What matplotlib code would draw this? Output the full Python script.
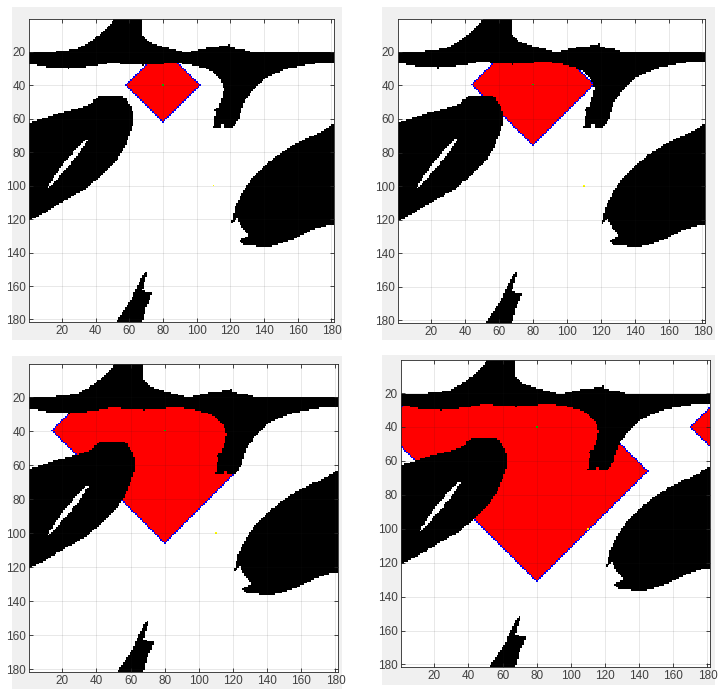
import numpy as np
import matplotlib
matplotlib.use('Agg')
import matplotlib.pyplot as plt
from matplotlib.path import Path
from matplotlib.colors import ListedColormap
from matplotlib.patches import Rectangle
from collections import deque

plt.rcParams['font.family'] = ['Liberation Sans', 'DejaVu Sans']

# map size, start / goal cells and the wavefront radius of each snapshot
N = 181
start = (80, 40)
goal = (110, 100)
radii = [22, 36, 66, 91]

# obstacle outlines (x = column, y = row)
top_band = [(-1, 20.3), (13, 20.3), (22, 19.5), (30, 17.8), (37, 14), (43, 9.5), (47, 5.5), (52.4, -1),
            (67, -1), (67, 9), (70, 13), (75, 15.6), (85, 18.5), (92, 20.2), (97, 20), (102, 18.5),
            (110, 17.3), (118, 16.5), (119.5, 15.5), (120, 17.5), (130, 19.3), (132, 20.3), (183, 20.3),
            (183, 26.3), (175.5, 26.3), (166, 27.7), (154, 30), (142, 35), (134, 42), (128, 50),
            (125, 60), (123, 63), (121.5, 65), (117, 65), (115.5, 62), (114, 65), (110, 65),
            (110.5, 60), (112, 57), (110, 54.5), (113, 53.5), (115, 48), (116.3, 42), (115, 38),
            (112, 34), (107, 30.5), (100, 28.5), (90, 26.8), (85, 26.5), (80, 27), (75, 27.5),
            (68, 28), (62, 27.8), (56, 27.3), (52, 26.3), (48, 26.8), (40, 28.3), (30, 29.5),
            (24, 30), (12.4, 29.9), (8.4, 28.3), (-1, 27.3)]
left_blob = [(-1, 62.5), (0.5, 62.5), (12.3, 58.7), (20.2, 56.3), (32, 53.4), (37, 51.4), (39, 49),
             (42, 46.2), (54, 46), (58, 48), (61, 53), (62.7, 58), (62.7, 62.3), (60.7, 68.2),
             (57.8, 76.2), (51.8, 86.1), (43.9, 94), (34, 102), (20.2, 109.9), (10.3, 115.9),
             (1.4, 120.8), (-1, 121.5)]
left_hole = [(11.3, 101.6), (15.7, 94.3), (21, 86.9), (27.3, 79.5), (34.5, 72.5), (35.5, 72.5),
             (30.9, 79.5), (25.3, 86.9), (18.7, 94.3), (12, 101.6)]
right_blob = [(183, 62.5), (181, 63), (173.5, 68.3), (161.6, 73.2), (155, 77), (147.8, 82.1),
              (138, 90), (131, 98), (126, 106), (123, 112), (121.7, 118), (120, 123.2), (124, 119),
              (126, 123.8), (129, 127.8), (131, 129.8), (125, 132.7), (128, 135.7), (143.9, 136.3),
              (155.7, 132.7), (165.6, 127.8), (177.5, 123.8), (183, 122.8)]
spike = [(52, 183), (52, 181.5), (57, 174.5), (61, 168.5), (63.9, 161.6), (66.8, 155.6),
         (69.8, 151.6), (70.8, 150.3), (70.5, 153), (68.8, 157.6), (67.8, 162.6), (71.8, 163.6),
         (73.2, 163), (72.8, 167.5), (69.8, 172.5), (67.8, 181.4), (67.8, 183)]

# panel boxes in pixels: axes (x0, y0, x1, y1) and grey background
axes_px = [(29, 19, 334, 322), (398, 19, 705, 323), (29, 364, 338, 672), (401, 360, 710, 667)]
back_px = [(12, 7, 342, 340), (382, 7, 715, 340), (12, 356, 342, 689), (382, 355, 715, 685)]

W, H = 722, 698


def rasterize(poly):
    xs, ys = np.meshgrid(np.arange(1, N + 1), np.arange(1, N + 1))
    pts = np.column_stack([xs.ravel(), ys.ravel()])
    return Path(poly).contains_points(pts).reshape(N, N)


obst = rasterize(top_band) | rasterize(left_blob) | rasterize(right_blob) | rasterize(spike)
obst &= ~rasterize(left_hole)


def wavefront(free, src):
    dist = np.full((N, N), -1)
    r0, c0 = src[1] - 1, src[0] - 1
    dist[r0, c0] = 0
    q = deque([(r0, c0)])
    while q:
        r, c = q.popleft()
        for dr, dc in ((1, 0), (-1, 0), (0, 1), (0, -1)):
            rr, cc = (r + dr) % N, (c + dc) % N
            if free[rr, cc] and dist[rr, cc] < 0:
                dist[rr, cc] = dist[r, c] + 1
                q.append((rr, cc))
    return dist


dist = wavefront(~obst, start)
cmap = ListedColormap(['white', 'black', '#ff0000', '#0000ff', '#00c000', '#ffff00'])

fig = plt.figure(figsize=(W / 100, H / 100), dpi=100)
fig.patch.set_facecolor('white')

for (bx0, by0, bx1, by1) in back_px:
    fig.add_artist(Rectangle((bx0 / W, 1 - by1 / H), (bx1 - bx0) / W, (by1 - by0) / H,
                             transform=fig.transFigure, facecolor='#f0f0f0', edgecolor='none', zorder=0))

for (x0, y0, x1, y1), rad in zip(axes_px, radii):
    ax = fig.add_axes([x0 / W, 1 - y1 / H, (x1 - x0) / W, (y1 - y0) / H])
    img = obst.astype(int)
    img[(dist >= 0) & (dist < rad)] = 2
    img[dist == rad] = 3
    img[start[1] - 1, start[0] - 1] = 4
    img[goal[1] - 1, goal[0] - 1] = 5
    ax.imshow(img, cmap=cmap, vmin=-0.5, vmax=5.5, interpolation='nearest', aspect='auto',
              extent=(0.5, N + 0.5, N + 0.5, 0.5))
    ax.set_xticks(range(20, 181, 20))
    ax.set_yticks(range(20, 181, 20))
    ax.set_axisbelow(False)
    ax.grid(True, color='#262626', alpha=0.12, lw=0.6)
    ax.tick_params(direction='in', length=3, top=True, right=True, labelsize=8.5,
                   color='#262626', labelcolor='#404040', pad=2.5, width=0.6)
    for s in ax.spines.values():
        s.set_color('#262626')
        s.set_linewidth(0.6)

fig.savefig('out.png', dpi=100)
